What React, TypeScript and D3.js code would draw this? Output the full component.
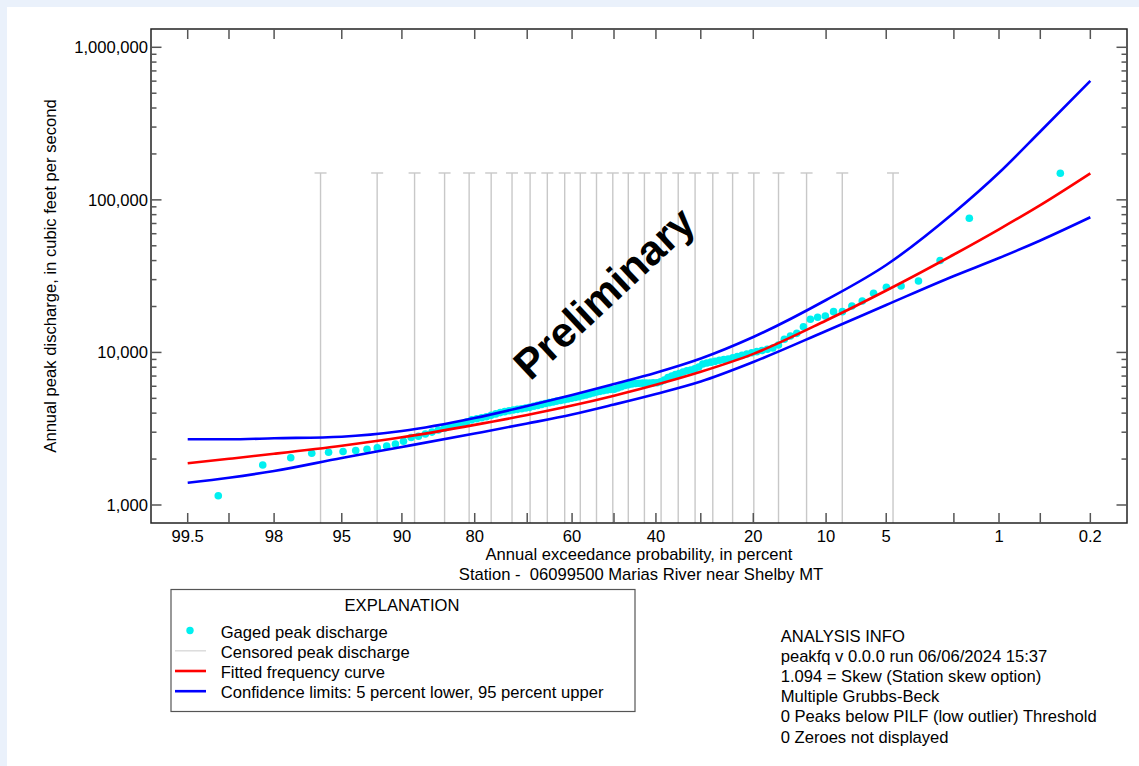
import React from 'react';
import * as d3 from 'd3';

const W = 1139;
const H = 766;

// x-axis ticks (annual exceedance probability, percent)
const xTickProbs = [99.5, 99, 98, 95, 90, 80, 70, 60, 50, 40, 30, 20, 10, 5, 2, 1, 0.5, 0.2];
const xTickLabels = ['99.5', '', '98', '95', '90', '80', '', '60', '', '40', '', '20', '10', '5', '', '1', '', '0.2'];
const yTickValues = [1000, 10000, 100000, 1000000];
const yMinorTicks = [
  2000, 3000, 4000, 5000, 6000, 7000, 8000, 9000,
  20000, 30000, 40000, 50000, 60000, 70000, 80000, 90000,
  200000, 300000, 400000, 500000, 600000, 700000, 800000, 900000,
];

// curves (discharge, cfs) at these probabilities
const curveProbs = [99.5, 99, 98, 95, 90, 80, 70, 60, 50, 40, 30, 20, 10, 5, 2, 1, 0.5, 0.2];
const fitted = [1876, 2008, 2166, 2447, 2778, 3350, 3890, 4483, 5205, 6135, 7464, 9781, 16195, 25470, 43850, 64150, 92420, 149300];
const upper95 = [2695, 2695, 2737, 2804, 3055, 3717, 4456, 5260, 6210, 7365, 9125, 12620, 22060, 37420, 82300, 150400, 280600, 603000];
const lower5 = [1400, 1510, 1670, 2033, 2400, 2942, 3421, 3920, 4557, 5341, 6448, 8656, 13820, 20460, 31700, 41580, 54170, 76870];

// gaged peaks: plotting position (percent) and discharge (cfs)
const gagedProbs = [
  99.16, 98.31, 97.46, 96.61, 95.77, 94.92, 94.07, 93.22, 92.37, 91.52,
  90.67, 89.83, 88.98, 88.13, 87.28, 86.43, 85.58, 84.73, 83.89, 83.04,
  82.19, 81.34, 80.49, 79.64, 78.79, 77.95, 77.10, 76.25, 75.40, 74.55,
  73.70, 72.86, 72.01, 71.16, 70.31, 69.46, 68.61, 67.77, 66.92, 66.07,
  65.22, 64.37, 63.52, 62.68, 61.83, 60.98, 60.13, 59.28, 58.43, 57.59,
  56.74, 55.89, 55.04, 54.19, 53.34, 52.50, 51.65, 50.80, 49.95, 49.10,
  48.25, 47.41, 46.56, 45.71, 44.86, 44.01, 43.16, 42.32, 41.47, 40.62,
  39.77, 38.92, 38.07, 37.23, 36.38, 35.53, 34.68, 33.83, 32.98, 32.14,
  31.29, 30.44, 29.59, 28.74, 27.89, 27.05, 26.20, 25.35, 24.50, 23.65,
  22.80, 21.95, 21.11, 20.26, 19.41, 18.56, 17.71, 16.86, 16.02, 15.17,
  14.32, 13.47, 12.62, 11.77, 10.93, 10.08, 9.23, 8.38, 7.53, 6.68,
  5.84, 4.99, 4.14, 3.29, 2.44, 1.59, 0.35,
];
const gagedQ = [
  1151, 1827, 2042, 2183, 2215, 2243, 2276, 2318, 2367, 2436,
  2512, 2620, 2770, 2824, 2920, 3004, 3100, 3187, 3266, 3330,
  3405, 3498, 3616, 3679, 3730, 3788, 3872, 3955, 4034, 4090,
  4145, 4196, 4235, 4278, 4325, 4364, 4437, 4497, 4565, 4628,
  4685, 4734, 4798, 4843, 4899, 4952, 5005, 5066, 5120, 5198,
  5261, 5348, 5428, 5505, 5556, 5623, 5674, 5727, 5742, 5848,
  5956, 6066, 6149, 6220, 6260, 6280, 6290, 6300, 6310, 6320,
  6330, 6420, 6595, 6849, 7011, 7151, 7281, 7449, 7590, 7670,
  7800, 8035, 8400, 8530, 8635, 8740, 8895, 8975, 9060, 9210,
  9390, 9570, 9770, 9950, 10120, 10300, 10500, 10690, 11190, 12190,
  12810, 13340, 14740, 16490, 16990, 17330, 18500, 18500, 20150, 21720,
  24420, 26740, 27250, 29380, 40080, 75700, 149300,
];

// censored peaks: plotting position (percent), upper bound 150,000 cfs
const censoredProbs = [96.19, 92.38, 88.59, 84.70, 80.93, 77.10, 73.11, 69.39, 65.65, 61.71, 58.07, 54.21, 50.29, 46.56, 42.71, 38.80, 34.90, 31.21, 27.53, 23.68, 19.91, 16.01, 12.23, 8.39, 4.59];
const censoredUpper = 150000;

const legendItems = ['Gaged peak discharge', 'Censored peak discharge', 'Fitted frequency curve', 'Confidence limits: 5 percent lower, 95 percent upper'];
const infoLines = [
  'ANALYSIS INFO',
  'peakfq v 0.0.0 run 06/06/2024 15:37',
  '1.094 = Skew (Station skew option)',
  'Multiple Grubbs-Beck',
  '0 Peaks below PILF (low outlier) Threshold',
  '0 Zeroes not displayed',
];

function qnorm(p: number): number {
  const a = [-3.969683028665376e1, 2.209460984245205e2, -2.759285104469687e2, 1.38357751867269e2, -3.066479806614716e1, 2.506628277459239];
  const b = [-5.447609879822406e1, 1.615858368580409e2, -1.556989798598866e2, 6.680131188771972e1, -1.328068155288572e1];
  const c = [-7.784894002430293e-3, -3.223964580411365e-1, -2.400758277161838, -2.549732539343734, 4.374664141464968, 2.938163982698783];
  const d = [7.784695709041462e-3, 3.224671290700398e-1, 2.445134137142996, 3.754408661907416];
  const pl = 0.02425;
  if (p < pl) {
    const q = Math.sqrt(-2 * Math.log(p));
    return (((((c[0] * q + c[1]) * q + c[2]) * q + c[3]) * q + c[4]) * q + c[5]) / ((((d[0] * q + d[1]) * q + d[2]) * q + d[3]) * q + 1);
  }
  if (p <= 1 - pl) {
    const q = p - 0.5;
    const r = q * q;
    return ((((((a[0] * r + a[1]) * r + a[2]) * r + a[3]) * r + a[4]) * r + a[5]) * q) / (((((b[0] * r + b[1]) * r + b[2]) * r + b[3]) * r + b[4]) * r + 1);
  }
  const q = Math.sqrt(-2 * Math.log(1 - p));
  return -(((((c[0] * q + c[1]) * q + c[2]) * q + c[3]) * q + c[4]) * q + c[5]) / ((((d[0] * q + d[1]) * q + d[2]) * q + d[3]) * q + 1);
}

const FONT = '"Liberation Sans", Arial, Helvetica, sans-serif';

export default function App() {
  const left = 151, right = 1127, top = 29, bottom = 523;
  const zScale = d3.scaleLinear().domain([-2.7976, 3.0997]).range([left, right]);
  const xp = (pct: number) => zScale(qnorm(1 - pct / 100));
  const y = d3.scaleLog().domain([Math.pow(10, 2.882), Math.pow(10, 6.1199)]).range([bottom, top]);

  const line = d3
    .line<[number, number]>()
    .x((d) => xp(d[0]))
    .y((d) => y(d[1]))
    .curve(d3.curveMonotoneX);

  const mk = (vals: number[]) => line(curveProbs.map((p, i) => [p, vals[i]] as [number, number])) || '';

  const fs = 16.6;
  const tickColor = '#555';

  const legendX = 171, legendY = 589.5, legendW = 464, legendH = 122;
  const legendRows = [637.5, 657.8, 678, 698.2];

  return (
    <svg width={W} height={H} style={{ position: 'absolute', left: 0, top: 0 }} fontFamily={FONT}>
      <rect x={0} y={0} width={W} height={H} fill="#eaf1fb" />
      <rect x={7} y={7} width={W - 7} height={H - 7} fill="#ffffff" />

      {/* censored peaks */}
      {censoredProbs.map((p, i) => {
        const cx = xp(p);
        const cy = y(censoredUpper);
        return (
          <g key={'c' + i} stroke="#c8c8c8" strokeWidth={1.4}>
            <line x1={cx} x2={cx} y1={cy} y2={bottom} />
            <line x1={cx - 6} x2={cx + 6} y1={cy} y2={cy} />
          </g>
        );
      })}

      {/* gaged peaks */}
      {gagedProbs.map((p, i) =>
        i < gagedQ.length ? <circle key={'g' + i} cx={xp(p)} cy={y(gagedQ[i])} r={3.8} fill="#00f0f0" /> : null
      )}

      {/* curves */}
      <path d={mk(upper95)} fill="none" stroke="#0000ff" strokeWidth={2.6} />
      <path d={mk(lower5)} fill="none" stroke="#0000ff" strokeWidth={2.6} />
      <path d={mk(fitted)} fill="none" stroke="#ff0000" strokeWidth={2.6} />

      {/* frame */}
      <rect x={left} y={top} width={right - left} height={bottom - top} fill="none" stroke="#222" strokeWidth={1.5} />

      {/* x ticks */}
      {xTickProbs.map((p, i) => {
        const tx = xp(p);
        return (
          <g key={'xt' + i}>
            <line x1={tx} x2={tx} y1={bottom} y2={bottom - 10} stroke={tickColor} strokeWidth={1.5} />
            <line x1={tx} x2={tx} y1={top} y2={top + 10} stroke={tickColor} strokeWidth={1.5} />
            {xTickLabels[i] ? (
              <text x={tx} y={542} textAnchor="middle" fontSize={fs} fill="#000">
                {xTickLabels[i]}
              </text>
            ) : null}
          </g>
        );
      })}

      {/* y ticks */}
      {yTickValues.map((v) => (
        <g key={'yt' + v}>
          <line x1={left} x2={left + 10.5} y1={y(v)} y2={y(v)} stroke={tickColor} strokeWidth={1.5} />
          <line x1={right} x2={right - 10.5} y1={y(v)} y2={y(v)} stroke={tickColor} strokeWidth={1.5} />
          <text x={148} y={y(v)} dy="0.36em" textAnchor="end" fontSize={fs} fill="#000">
            {d3.format(',')(v)}
          </text>
        </g>
      ))}
      {yMinorTicks.map((v) => (
        <g key={'ym' + v}>
          <line x1={left} x2={left + 5.5} y1={y(v)} y2={y(v)} stroke={tickColor} strokeWidth={1.5} />
          <line x1={right} x2={right - 5.5} y1={y(v)} y2={y(v)} stroke={tickColor} strokeWidth={1.5} />
        </g>
      ))}

      {/* axis titles */}
      <text x={639} y={559.5} textAnchor="middle" fontSize={fs} fill="#000">
        Annual exceedance probability, in percent
      </text>
      <text x={641} y={580} textAnchor="middle" fontSize={fs} fill="#000">
        Station -{'\u00a0'} 06099500 Marias River near Shelby MT
      </text>
      <text transform="translate(56,276) rotate(-90)" textAnchor="middle" fontSize={fs} fill="#000">
        Annual peak discharge, in cubic feet per second
      </text>

      {/* watermark */}
      <text
        transform="translate(604,293) rotate(-43)"
        textAnchor="middle"
        dy="0.35em"
        fontSize={42}
        fontWeight="bold"
        fill="#000"
      >
        Preliminary
      </text>

      {/* legend */}
      <rect x={legendX} y={legendY} width={legendW} height={legendH} fill="#fff" stroke="#555" strokeWidth={1.2} />
      <text x={402} y={610.5} textAnchor="middle" fontSize={fs} fill="#000">
        EXPLANATION
      </text>
      <circle cx={190} cy={legendRows[0] - 7} r={3.7} fill="#00f0f0" />
      <line x1={175} x2={206} y1={legendRows[1] - 7} y2={legendRows[1] - 7} stroke="#dcdcdc" strokeWidth={1.5} />
      <line x1={175} x2={206} y1={legendRows[2] - 7} y2={legendRows[2] - 7} stroke="#ff0000" strokeWidth={2.6} />
      <line x1={175} x2={206} y1={legendRows[3] - 7} y2={legendRows[3] - 7} stroke="#0000ff" strokeWidth={2.6} />
      {legendItems.map((t, i) => (
        <text key={'l' + i} x={220.7} y={legendRows[i]} fontSize={fs} fill="#000">
          {t}
        </text>
      ))}

      {/* analysis info */}
      {infoLines.map((t, i) => (
        <text key={'i' + i} x={780.7} y={641.5 + i * 20.2} fontSize={fs} fill="#000">
          {t}
        </text>
      ))}
    </svg>
  );
}
